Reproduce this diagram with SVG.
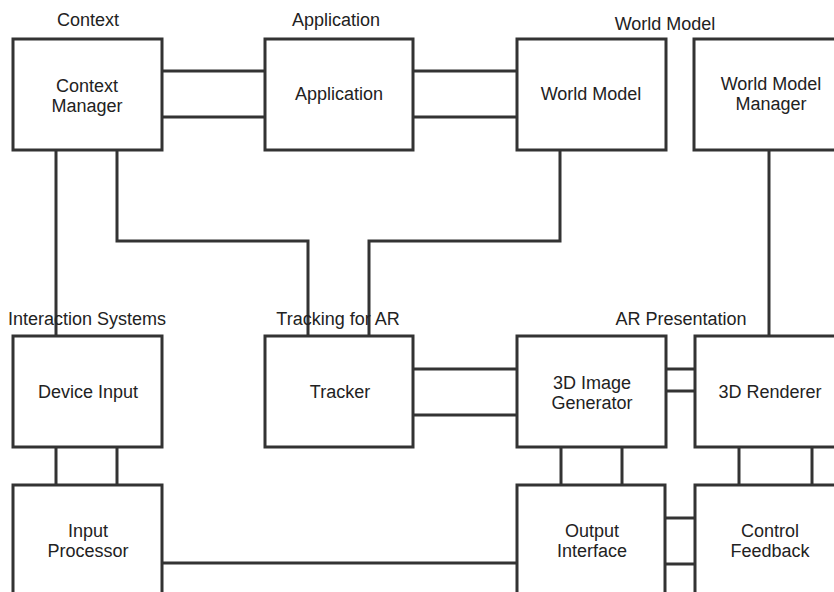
<svg xmlns="http://www.w3.org/2000/svg" width="834" height="592" viewBox="0 0 834 592">
  <style>
    .box { fill: #ffffff; stroke: #333333; stroke-width: 3; }
    .wire { fill: none; stroke: #333333; stroke-width: 3; }
    text { font-family: "Liberation Sans", Arial, sans-serif; font-size: 18px; fill: #222222; text-anchor: middle; }
  </style>
  <rect width="834" height="592" fill="#ffffff"/>

  <!-- connectors -->
  <g id="connectors">
    <line class="wire" x1="162" y1="71" x2="265" y2="71"/>
    <line class="wire" x1="162" y1="117" x2="265" y2="117"/>
    <line class="wire" x1="413" y1="71" x2="517" y2="71"/>
    <line class="wire" x1="413" y1="117" x2="517" y2="117"/>
    <line class="wire" x1="56" y1="150" x2="56" y2="336"/>
    <polyline class="wire" points="117,150 117,241 308,241 308,336"/>
    <polyline class="wire" points="560,150 560,241 369,241 369,336"/>
    <line class="wire" x1="769" y1="150" x2="769" y2="336"/>
    <line class="wire" x1="413" y1="369" x2="517" y2="369"/>
    <line class="wire" x1="413" y1="415" x2="517" y2="415"/>
    <line class="wire" x1="666" y1="369" x2="695" y2="369"/>
    <line class="wire" x1="666" y1="391" x2="695" y2="391"/>
    <line class="wire" x1="56" y1="447" x2="56" y2="485"/>
    <line class="wire" x1="117" y1="447" x2="117" y2="485"/>
    <line class="wire" x1="561" y1="436" x2="561" y2="485"/>
    <line class="wire" x1="622" y1="447" x2="622" y2="485"/>
    <line class="wire" x1="739" y1="447" x2="739" y2="485"/>
    <line class="wire" x1="812" y1="447" x2="812" y2="485"/>
    <line class="wire" x1="162" y1="563" x2="517" y2="563"/>
    <line class="wire" x1="665" y1="518" x2="695" y2="518"/>
    <line class="wire" x1="665" y1="564" x2="695" y2="564"/>
  </g>

  <!-- group captions -->
  <g id="captions">
    <text x="88" y="26">Context</text>
    <text x="336" y="26">Application</text>
    <text x="665" y="30">World Model</text>
    <text x="87" y="325">Interaction Systems</text>
    <text x="338" y="325">Tracking for AR</text>
    <text x="681" y="325">AR Presentation</text>
  </g>

  <g id="context-manager">
    <rect class="box" x="13" y="39" width="149" height="111"/>
    <text x="87" y="92">Context</text>
    <text x="87" y="112">Manager</text>
  </g>
  <g id="application">
    <rect class="box" x="265" y="39" width="148" height="111"/>
    <text x="339" y="100">Application</text>
  </g>
  <g id="world-model">
    <rect class="box" x="517" y="39" width="149" height="111"/>
    <text x="591" y="100">World Model</text>
  </g>
  <g id="world-model-manager">
    <rect class="box" x="694" y="39" width="150" height="111"/>
    <text x="771" y="90">World Model</text>
    <text x="771" y="110">Manager</text>
  </g>

  <g id="device-input">
    <rect class="box" x="13" y="336" width="149" height="111"/>
    <text x="88" y="398">Device Input</text>
  </g>
  <g id="tracker">
    <rect class="box" x="265" y="336" width="148" height="111"/>
    <text x="340" y="398">Tracker</text>
  </g>
  <g id="image-generator">
    <rect class="box" x="517" y="336" width="149" height="111"/>
    <text x="592" y="389">3D Image</text>
    <text x="592" y="409">Generator</text>
  </g>
  <g id="renderer">
    <rect class="box" x="695" y="336" width="150" height="111"/>
    <text x="770" y="398">3D Renderer</text>
  </g>

  <g id="input-processor">
    <rect class="box" x="13" y="485" width="149" height="120"/>
    <text x="88" y="537">Input</text>
    <text x="88" y="557">Processor</text>
  </g>
  <g id="output-interface">
    <rect class="box" x="517" y="485" width="148" height="120"/>
    <text x="592" y="537">Output</text>
    <text x="592" y="557">Interface</text>
  </g>
  <g id="control-feedback">
    <rect class="box" x="695" y="485" width="150" height="120"/>
    <text x="770" y="537">Control</text>
    <text x="770" y="557">Feedback</text>
  </g>
</svg>
